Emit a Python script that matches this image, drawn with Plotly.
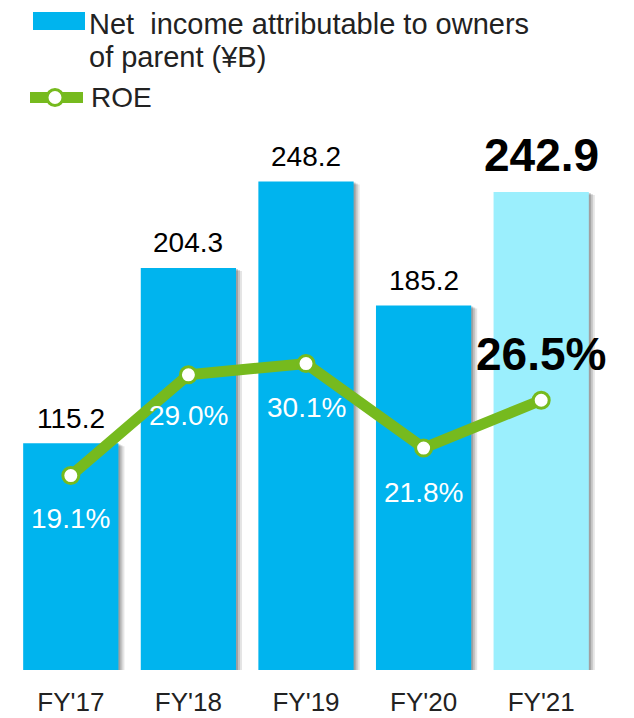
import plotly.graph_objects as go

categories = ["FY'17", "FY'18", "FY'19", "FY'20", "FY'21"]
net_income = [115.2, 204.3, 248.2, 185.2, 242.9]
roe = [19.1, 29.0, 30.1, 21.8, 26.5]
bar_labels = ["115.2", "204.3", "248.2", "185.2", "242.9"]
roe_labels = ["19.1%", "29.0%", "30.1%", "21.8%", "26.5%"]
legend_bar_text = ["Net  income attributable to owners", "of parent (¥B)"]
legend_line_text = "ROE"

BLUE = "#00B4EE"
LIGHT = "#9BEFFD"
GREEN = "#76BA1E"
bar_colors = [BLUE] * 4 + [LIGHT]
FONT = "Liberation Sans, Arial, sans-serif"

W, H = 634, 718
OFF = 8  # page body margin
L, R, T, B = 4, 42, 122, 56
PW, PH = W - L - R, H - T - B
Y1MAX = PH / 1.968
Y2MAX = PH / 10.18


def px(x):
    return (x - OFF - L) / PW


def py(y):
    return (H - B - (y - OFF)) / PH


fig = go.Figure()
# soft shadows
for dx, dy, a in [(6, 3, 0.10), (4, 2, 0.14), (2, 1, 0.18)]:
    fig.add_trace(go.Bar(
        x=categories, y=net_income, base=[-dy / 1.968] * len(net_income),
        width=0.81, offset=-0.405 + dx / PW * 5,
        marker=dict(color=f"rgba(0,0,0,{a})", line=dict(width=0)),
        hoverinfo="skip", showlegend=False, yaxis="y",
    ))
fig.add_trace(go.Bar(
    x=categories, y=net_income, name=" ".join(legend_bar_text),
    width=0.81, offset=-0.405,
    marker=dict(color=bar_colors, line=dict(width=0)), yaxis="y",
))
fig.add_trace(go.Scatter(
    x=categories, y=roe, name=legend_line_text, yaxis="y2", mode="lines+markers",
    line=dict(color=GREEN, width=11),
    marker=dict(size=16, color="white", line=dict(color=GREEN, width=3)),
))

annotations = []
for i, (c, v, t) in enumerate(zip(categories, net_income, bar_labels)):
    last = i == len(categories) - 1
    annotations.append(dict(
        x=c, y=v, xref="x", yref="y", text=f"<b>{t}</b>" if last else t,
        showarrow=False, yanchor="middle", yshift=37 if last else 25,
        font=dict(family=FONT, size=46 if last else 28, color="black"),
    ))
roe_shift = [-43, -41, -43.5, -44.5]
for i, (c, v, t) in enumerate(zip(categories, roe, roe_labels)):
    last = i == len(categories) - 1
    if last:
        annotations.append(dict(
            x=c, y=v, xref="x", yref="y2", text=f"<b>{t}</b>",
            showarrow=False, yshift=46,
            font=dict(family=FONT, size=46, color="black"),
        ))
    else:
        annotations.append(dict(
            x=c, y=v, xref="x", yref="y2", text=t,
            showarrow=False, yshift=roe_shift[i],
            font=dict(family=FONT, size=28, color="white"),
        ))

# manual legend
leg_font = dict(family=FONT, size=29, color="#222222")
for txt, yc in zip(legend_bar_text, [23.5, 57]):
    annotations.append(dict(x=px(88), y=py(yc), xref="paper", yref="paper", text=txt,
                            showarrow=False, xanchor="left", yanchor="middle",
                            borderpad=0, font=leg_font))
annotations.append(dict(x=px(89), y=py(98), xref="paper", yref="paper", text=legend_line_text,
                        showarrow=False, xanchor="left", yanchor="middle",
                        font=dict(family=FONT, size=28, color="#222222")))

shapes = [
    dict(type="rect", xref="paper", yref="paper", x0=px(33), x1=px(85), y0=py(30), y1=py(12),
         fillcolor=BLUE, line=dict(width=0)),
    dict(type="line", xref="paper", yref="paper", x0=px(30), x1=px(83), y0=py(97.5), y1=py(97.5),
         line=dict(color=GREEN, width=11)),
    dict(type="circle", xref="paper", yref="paper", x0=px(47), x1=px(63), y0=py(105.5), y1=py(89.5),
         fillcolor="white", line=dict(color=GREEN, width=3)),
]

fig.update_layout(
    width=W, height=H,
    margin=dict(l=L, r=R, t=T, b=B, autoexpand=False),
    paper_bgcolor="white", plot_bgcolor="white",
    barmode="overlay",
    showlegend=False,
    xaxis=dict(
        showgrid=False, zeroline=False, showline=False, ticks="",
        tickfont=dict(family=FONT, size=26, color="#222222"),
        ticklabelstandoff=14, tickangle=0, range=[-0.5, 4.5],
    ),
    yaxis=dict(range=[0, Y1MAX], visible=False, showgrid=False),
    yaxis2=dict(range=[0, Y2MAX], overlaying="y", visible=False, showgrid=False),
    annotations=annotations,
    shapes=shapes,
)

fig.write_html("out.html")
